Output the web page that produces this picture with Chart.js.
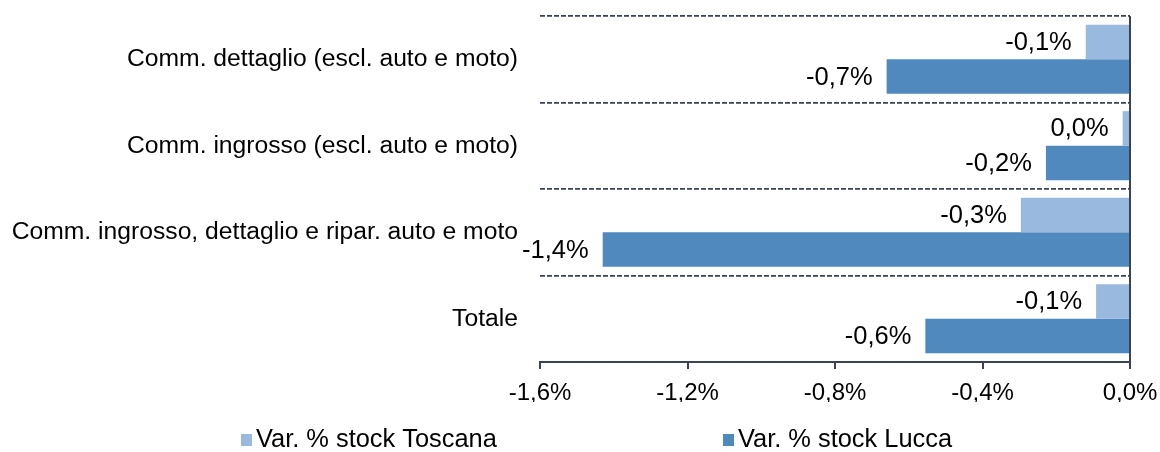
<!DOCTYPE html>
<html>
<head>
<meta charset="utf-8">
<script src="https://cdn.jsdelivr.net/npm/chart.js@4.4.0/dist/chart.umd.min.js"></script>
<style>
  html, body { margin: 0; padding: 0; background: #fff; }
  #wrap { width: 1160px; height: 452px; }
</style>
</head>
<body>
<div id="wrap"><canvas id="grafico" width="1160" height="452"></canvas></div>
<script>
const categorie = [
  'Comm. dettaglio (escl. auto e moto)',
  'Comm. ingrosso (escl. auto e moto)',
  'Comm. ingrosso, dettaglio e ripar. auto e moto',
  'Totale'
];
const var_toscana = [-0.12, -0.02, -0.296, -0.092];
const var_lucca = [-0.66, -0.228, -1.43, -0.555];
const tick_valori = [-1.6, -1.2, -0.8, -0.4, 0.0];

const colore_toscana = '#9AB9DF';
const colore_lucca = '#4F89BE';
const colore_assi = '#3A4354';
const font = 'Liberation Sans, Arial, sans-serif';

function formatta(v) {
  let r = Math.round(v * 10) / 10;
  if (r === 0) r = 0;
  return r.toFixed(1).replace('.', ',') + '%';
}

// etichette dei valori a sinistra della fine della barra
const etichette = {
  id: 'etichette',
  afterDatasetsDraw(chart) {
    const ctx = chart.ctx;
    ctx.save();
    ctx.font = '25.5px ' + font;
    ctx.fillStyle = '#000';
    ctx.textAlign = 'right';
    ctx.textBaseline = 'middle';
    chart.data.datasets.forEach((ds, i) => {
      chart.getDatasetMeta(i).data.forEach((bar, j) => {
        ctx.fillText(formatta(ds.data[j]), bar.x - 14, bar.y + 1);
      });
    });
    ctx.restore();
  }
};

// legenda in basso
const legenda = {
  id: 'legenda',
  afterDraw(chart) {
    const ctx = chart.ctx;
    const pos_x = [241, 723];
    const y = 440;
    ctx.save();
    ctx.font = '25.4px ' + font;
    ctx.textBaseline = 'middle';
    ctx.textAlign = 'left';
    chart.data.datasets.forEach((ds, i) => {
      ctx.fillStyle = ds.backgroundColor;
      ctx.fillRect(pos_x[i], y - 6, 11, 12);
      ctx.fillStyle = '#000';
      ctx.fillText(ds.label, pos_x[i] + 15, y);
    });
    ctx.restore();
  }
};

const data = {
  labels: categorie,
  datasets: [{
    label: 'Var. % stock Toscana',
    backgroundColor: colore_toscana,
    data: var_toscana,
    categoryPercentage: 0.8,
    barPercentage: 1.0
  }, {
    label: 'Var. % stock Lucca',
    backgroundColor: colore_lucca,
    data: var_lucca,
    categoryPercentage: 0.8,
    barPercentage: 1.0
  }]
};

const config = {
  type: 'bar',
  data: data,
  options: {
    indexAxis: 'y',
    responsive: false,
    animation: false,
    layout: { padding: { top: 16, right: 30, bottom: 50, left: 0 } },
    plugins: {
      legend: { display: false },
      tooltip: { enabled: false }
    },
    scales: {
      x: {
        min: -1.6,
        max: 0,
        afterBuildTicks: (scala) => {
          scala.ticks = tick_valori.map(v => ({ value: v }));
        },
        afterFit: (scala) => {
          scala.height = 40;
          scala.paddingLeft = 0;
          scala.paddingRight = 0;
        },
        ticks: {
          color: '#000',
          font: { family: font, size: 24 },
          padding: 10,
          maxRotation: 0,
          callback: (v) => formatta(v)
        },
        grid: {
          color: (c) => (c.tick && c.tick.value === 0) ? colore_assi : 'rgba(0,0,0,0)',
          lineWidth: 2,
          tickColor: colore_assi,
          tickLength: 7,
          drawTicks: true
        },
        border: { display: true, color: colore_assi, width: 2 }
      },
      y: {
        afterFit: (scala) => {
          scala.width = 540;
          scala.paddingTop = 0;
          scala.paddingBottom = 0;
        },
        ticks: {
          color: '#000',
          font: { family: font, size: 24.7 },
          padding: 22
        },
        grid: {
          color: colore_assi,
          lineWidth: 1.8,
          drawTicks: false
        },
        border: { display: false, dash: [5, 2] }
      }
    }
  },
  plugins: [etichette, legenda]
};

let myChart = new Chart(document.querySelector('#grafico').getContext('2d'), config);
</script>
</body>
</html>
